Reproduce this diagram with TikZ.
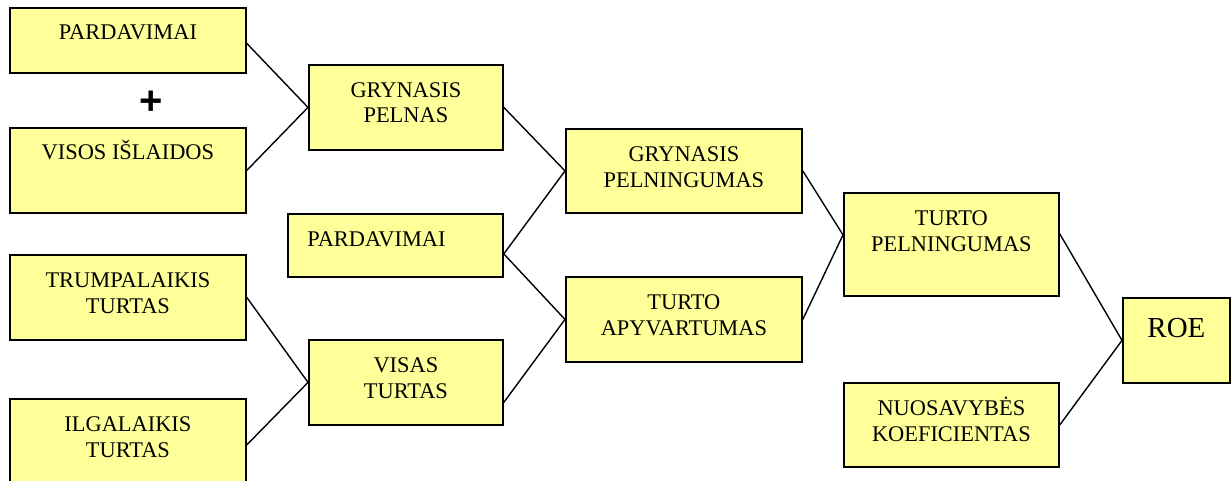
\documentclass[tikz,border=0pt]{standalone}
\usepackage{fontspec}
\setmainfont{Liberation Serif}
\newfontfamily\plusfont{Liberation Sans}
\usetikzlibrary{calc}
\definecolor{boxfill}{HTML}{FFFF99}
\tikzset{
  box/.style={draw=black, fill=boxfill, line width=0.9pt, rectangle, inner sep=0pt, anchor=north west},
  lbl/.style={inner sep=0pt, align=center, anchor=base, font=\fontsize{11.2}{13}\selectfont},
  link/.style={draw=black, line width=0.7pt},
}
% baseline of a one-line label / of the second line of a two-line label, below the box top
\def\onedrop{-16.5pt}
\def\twodrop{-29.5pt}
\begin{document}
\begin{tikzpicture}[x=0.5pt, y=-0.5pt]
\useasboundingbox (0,0) rectangle (1232,481);
\clip (0,0) rectangle (1232,481);

% first column
\node[box, minimum width=118pt, minimum height=32.5pt] (pA) at (9,7) {};
\node[box, minimum width=118pt, minimum height=42.5pt] (vi) at (9,127) {};
\node[box, minimum width=118pt, minimum height=42.5pt] (tr) at (9,254) {};
\node[box, minimum width=118pt, minimum height=46pt]   (il) at (9,398) {};

% second column
\node[box, minimum width=97pt,    minimum height=42.5pt] (gp) at (308,64) {};
\node[box, minimum width=107.5pt, minimum height=31.5pt] (pB) at (287,213) {};
\node[box, minimum width=97pt,    minimum height=42.5pt] (vt) at (308,339) {};

% third column
\node[box, minimum width=118pt, minimum height=42pt]   (gpl) at (565,128) {};
\node[box, minimum width=118pt, minimum height=42.5pt] (ta)  at (565,276) {};

% fourth column
\node[box, minimum width=107.5pt, minimum height=51.5pt] (tp) at (843,192) {};
\node[box, minimum width=107.5pt, minimum height=42pt]   (nk) at (843,382) {};

% result
\node[box, minimum width=53.5pt, minimum height=42.5pt] (roe) at (1122,297) {};

% labels, set near the top of each box
\node[lbl] (pA-t)  at ($(pA.north)+(0,\onedrop)$)  {PARDAVIMAI};
\node[lbl] (vi-t)  at ($(vi.north)+(0,\onedrop)$)  {VISOS IŠLAIDOS};
\node[lbl] (tr-t)  at ($(tr.north)+(0,\twodrop)$)  {TRUMPALAIKIS\\TURTAS};
\node[lbl] (il-t)  at ($(il.north)+(0,\twodrop)$)  {ILGALAIKIS\\TURTAS};
\node[lbl] (gp-t)  at ($(gp.north)+(0,\twodrop)$)  {GRYNASIS\\PELNAS};
\node[lbl, anchor=base west] (pB-t) at ($(pB.north west)+(10pt,\onedrop)$) {PARDAVIMAI};
\node[lbl] (vt-t)  at ($(vt.north)+(0,\twodrop)$)  {VISAS\\TURTAS};
\node[lbl] (gpl-t) at ($(gpl.north)+(0,\twodrop)$) {GRYNASIS\\PELNINGUMAS};
\node[lbl] (ta-t)  at ($(ta.north)+(0,\twodrop)$)  {TURTO\\APYVARTUMAS};
\node[lbl] (tp-t)  at ($(tp.north)+(0,\twodrop)$)  {TURTO\\PELNINGUMAS};
\node[lbl] (nk-t)  at ($(nk.north)+(0,\twodrop)$)  {NUOSAVYBĖS\\KOEFICIENTAS};
\node[lbl, font=\fontsize{14.5}{16}\selectfont] (roe-t) at ($(roe.north)+(0,-20pt)$) {ROE};

% plus sign between the first two boxes
\node[inner sep=0pt, font=\plusfont\bfseries\fontsize{20}{20}\selectfont] (plus) at (151,103) {+};

% connector end points that sit off the box centres
\coordinate (pA-o) at ($(pA.east)+(0,-1.5pt)$);
\coordinate (pB-o) at ($(pB.east)+(0,-4.25pt)$);
\coordinate (vt-o) at ($(vt.east)+(0,-10pt)$);
\coordinate (tp-i) at ($(tp.west)+(0,4.75pt)$);
\coordinate (tp-o) at ($(tp.east)+(0,5.25pt)$);

% connectors
\draw[link] (pA-o) -- (gp.west) -- (vi.east);
\draw[link] (tr.east) -- (vt.west) -- (il.east);
\draw[link] (gp.east) -- (gpl.west) -- (pB-o) -- (ta.west) -- (vt-o);
\draw[link] (gpl.east) -- (tp-i) -- (ta.east);
\draw[link] (tp-o) -- (roe.west) -- (nk.east);
\end{tikzpicture}
\end{document}
